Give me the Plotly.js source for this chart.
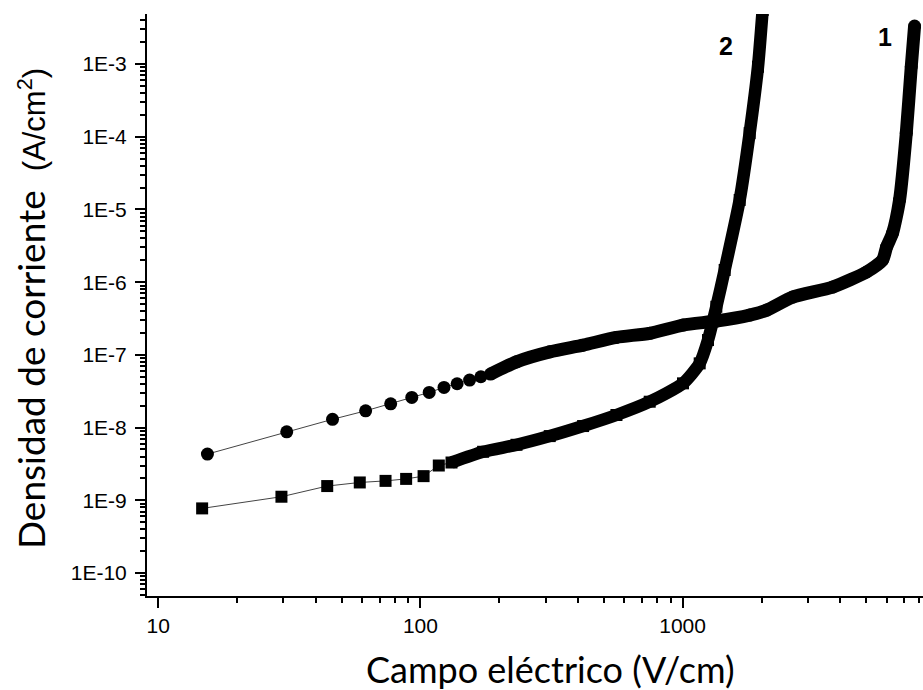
<!DOCTYPE html>
<html>
<head>
<meta charset="utf-8">
<script src="https://cdn.plot.ly/plotly-3.0.1.min.js"></script>
<style>html,body{margin:0;padding:0;background:#fff;}</style>
</head>
<body>
<div id="chart" style="width:923px;height:690px;"></div>
<script>
// Curve 1 (circles)
const field1 = [15.4, 30.9, 46.2, 61.8, 77.0, 92.7, 108, 123, 138, 154, 170, 185, 232.5, 311.4, 417.3, 559.3, 749.2, 1003.5, 1345, 1802, 2093, 2628, 3735, 5033, 5791, 5999, 6323, 6723, 7133, 7451, 7671];
const current1 = [4.32e-9, 8.75e-9, 1.30e-8, 1.70e-8, 2.12e-8, 2.60e-8, 3.05e-8, 3.57e-8, 4.01e-8, 4.50e-8, 5.00e-8, 5.45e-8, 8.03e-8, 1.10e-7, 1.36e-7, 1.74e-7, 1.98e-7, 2.57e-7, 2.92e-7, 3.53e-7, 4.13e-7, 6.23e-7, 8.57e-7, 1.38e-6, 2.01e-6, 3.04e-6, 4.73e-6, 1.35e-5, 1.12e-4, 9.18e-4, 3.33e-3];
// Curve 2 (squares)
const field2 = [14.7, 29.5, 44.1, 58.7, 73.6, 88.2, 102.8, 117.5, 131.4, 173.4, 232.5, 311.4, 417.3, 559.3, 749.2, 1003.5, 1162, 1250, 1345, 1447, 1651, 1802, 1939, 2020];
const current2 = [7.74e-10, 1.12e-9, 1.57e-9, 1.76e-9, 1.85e-9, 1.97e-9, 2.15e-9, 3.01e-9, 3.31e-9, 4.65e-9, 5.80e-9, 7.64e-9, 1.05e-8, 1.49e-8, 2.27e-8, 4.06e-8, 7.64e-8, 1.60e-7, 4.59e-7, 1.47e-6, 1.35e-5, 1.12e-4, 9.18e-4, 5.53e-3];

const curveLabels = ['1', '2'];
const xTickVals = [10, 100, 1000];
const xTickText = ['10', '100', '1000'];
const yTickVals = [1e-10, 1e-9, 1e-8, 1e-7, 1e-6, 1e-5, 1e-4, 1e-3];
const yTickText = ['1E-10', '1E-9', '1E-8', '1E-7', '1E-6', '1E-5', '1E-4', '1E-3'];

const band1Start = 11, band2Start = 8;

function minorVals(e0, e1) {
  const v = [];
  for (let e = e0; e <= e1; e++) for (let k = 2; k <= 9; k++) v.push(k * Math.pow(10, e));
  return v;
}

const traces = [
  {x: field1, y: current1, mode: 'lines+markers', line: {color: '#444', width: 1},
   marker: {symbol: 'circle', size: 13, color: '#000', line: {width: 0}}, showlegend: false},
  {x: field2, y: current2, mode: 'lines+markers', line: {color: '#444', width: 1},
   marker: {symbol: 'square', size: 12, color: '#000', line: {width: 0}}, showlegend: false},
  {x: field1.slice(band1Start), y: current1.slice(band1Start), mode: 'lines',
   line: {color: '#000', width: 13, shape: 'spline', smoothing: 0.6}, hoverinfo: 'skip', showlegend: false},
  {x: field2.slice(band2Start), y: current2.slice(band2Start), mode: 'lines',
   line: {color: '#000', width: 12.5, shape: 'spline', smoothing: 0.6}, hoverinfo: 'skip', showlegend: false}
];

const axisFont = {family: '"Liberation Sans", Arial, sans-serif', size: 21, color: '#000'};

const layout = {
  width: 923, height: 690,
  margin: {l: 147, r: 0, t: 14, b: 94, pad: 0},
  paper_bgcolor: '#fff', plot_bgcolor: '#fff',
  showlegend: false,
  xaxis: {
    type: 'log', range: [0.957, 3.917],
    tickmode: 'array', tickvals: xTickVals, ticktext: xTickText,
    ticks: 'outside', ticklen: 10, tickwidth: 2, tickcolor: '#000',
    showline: true, linewidth: 2, linecolor: '#000',
    showgrid: false, zeroline: false, tickfont: axisFont, ticklabelstandoff: 0,
    minor: {tickmode: 'array', tickvals: minorVals(0, 3), ticks: 'outside', ticklen: 5, tickwidth: 2, tickcolor: '#000', showgrid: false}
  },
  yaxis: {
    type: 'log', range: [-10.316, -2.312],
    tickmode: 'array', tickvals: yTickVals, ticktext: yTickText,
    ticks: 'outside', ticklen: 10, tickwidth: 2, tickcolor: '#000',
    showline: true, linewidth: 2, linecolor: '#000',
    showgrid: false, zeroline: false, tickfont: axisFont, ticklabelstandoff: 4,
    minor: {tickmode: 'array', tickvals: minorVals(-11, -3), ticks: 'outside', ticklen: 5, tickwidth: 2, tickcolor: '#000', showgrid: false}
  },
  annotations: [
    {text: '<b>' + curveLabels[0] + '</b>', xref: 'paper', yref: 'paper', x: 0.951, y: 0.9605,
     xanchor: 'center', yanchor: 'middle', showarrow: false,
     font: {family: '"Liberation Sans", Arial, sans-serif', size: 25, color: '#000'}},
    {text: '<b>' + curveLabels[1] + '</b>', xref: 'paper', yref: 'paper', x: 0.746, y: 0.945,
     xanchor: 'center', yanchor: 'middle', showarrow: false,
     font: {family: '"Liberation Sans", Arial, sans-serif', size: 25, color: '#000'}},
    {text: 'Campo eléctrico (V/cm)', xref: 'paper', yref: 'paper', x: 0.5206, y: -0.125,
     xanchor: 'center', yanchor: 'middle', showarrow: false,
     font: {family: 'Lato, "Open Sans", sans-serif', size: 36, color: '#000'}},
    {text: 'Densidad de corriente&nbsp;&nbsp;<span style="font-family:\'Liberation Sans\', Arial; font-size:31px">(A/cm<sup>2</sup>)</span>',
     xref: 'paper', yref: 'paper', x: -0.1508, y: 0.4948, textangle: -90,
     xanchor: 'center', yanchor: 'middle', showarrow: false,
     font: {family: 'Lato, "Open Sans", sans-serif', size: 37, color: '#000'}}
  ]
};

Plotly.newPlot('chart', traces, layout, {displayModeBar: false, staticPlot: true});
</script>
</body>
</html>
